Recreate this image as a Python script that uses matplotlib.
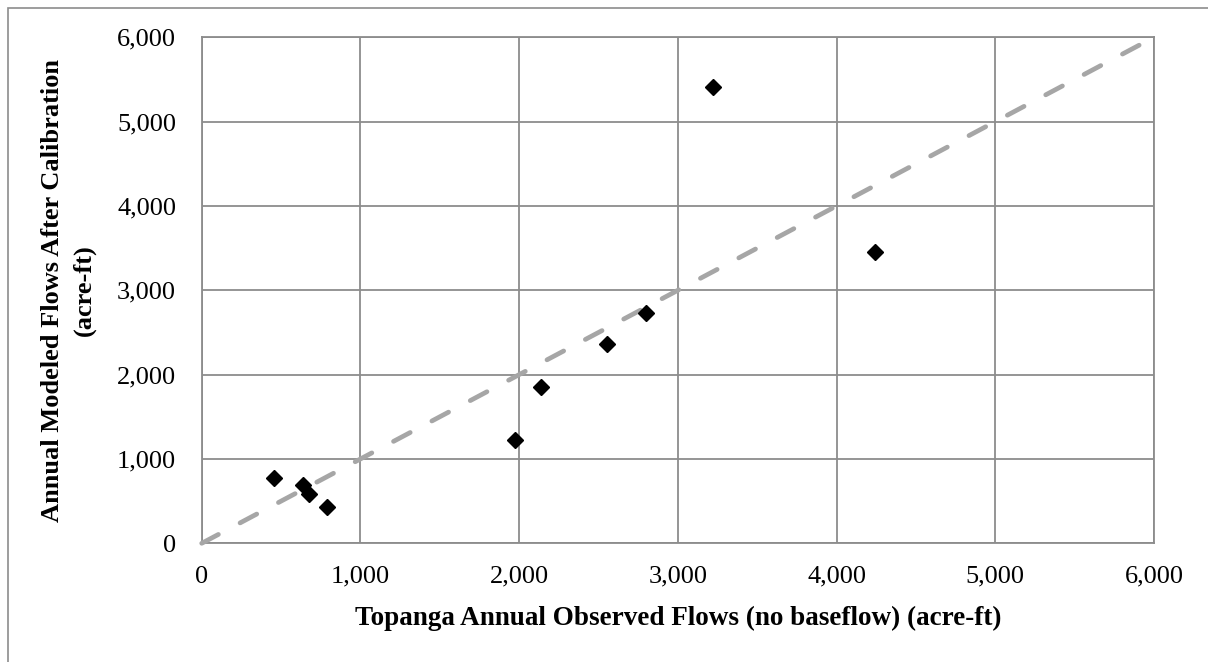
import matplotlib
matplotlib.use("Agg")
import matplotlib.pyplot as plt
from matplotlib.ticker import FuncFormatter, MultipleLocator
from matplotlib.patches import Rectangle

observed = [455, 639, 677, 792, 1977, 2138, 2553, 2799, 3224, 4241]
modeled = [771, 691, 585, 427, 1225, 1857, 2367, 2727, 5414, 3458]
line_x = [0, 6000]
line_y = [0, 6000]

xlabel = "Topanga Annual Observed Flows (no baseflow) (acre-ft)"
ylabel = "Annual Modeled Flows After Calibration\n(acre-ft)"

plt.rcParams['font.family'] = ['Liberation Serif', 'DejaVu Serif']

fig = plt.figure(figsize=(12.08, 6.62), dpi=100)
ax = fig.add_axes([201.7/1208, (662-543.3)/662, (1154-201.7)/1208, (543.3-37.3)/662])

grid_c = '#8c8c8c'
ax.plot(line_x, line_y, color='#a6a6a6', lw=3.4, ls=(0, (4.0, 5.2)),
        dash_capstyle='round', zorder=3, clip_on=False)
ax.plot(observed, modeled, ls='none', marker='D', markersize=8.5,
        color='black', zorder=4)

ax.set_xlim(0, 6000)
ax.set_ylim(0, 6000)
ax.xaxis.set_major_locator(MultipleLocator(1000))
ax.yaxis.set_major_locator(MultipleLocator(1000))
fmt = FuncFormatter(lambda v, p: f"{int(v):,}")
ax.xaxis.set_major_formatter(fmt)
ax.yaxis.set_major_formatter(fmt)
ax.grid(True, color=grid_c, lw=1.3, zorder=1)
ax.set_axisbelow(True)
for s in ax.spines.values():
    s.set_color(grid_c)
    s.set_linewidth(1.3)
ax.tick_params(length=0, labelsize=19)
ax.tick_params(axis='x', pad=16)
ax.tick_params(axis='y', pad=18.5)

ax.set_xlabel(xlabel, fontsize=19.5, fontweight='bold', labelpad=13)
ax.set_ylabel(ylabel, fontsize=19, fontweight='bold', labelpad=15, linespacing=1.5)

fig.patches.append(Rectangle((8/1208, -0.1), 1.2, (662-8)/662 + 0.1,
                             transform=fig.transFigure, fill=False,
                             edgecolor='#8c8c8c', lw=1.2))

fig.savefig("out.png", dpi=100)
